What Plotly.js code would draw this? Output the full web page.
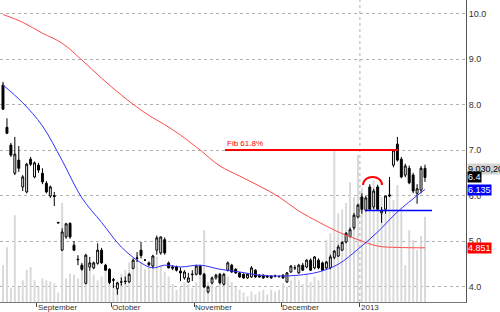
<!DOCTYPE html>
<html><head><meta charset="utf-8">
<script src="https://cdn.plot.ly/plotly-3.0.1.min.js"></script>
<style>html,body{margin:0;padding:0;background:#fff;}#chart{width:500px;height:312px;}</style>
</head><body><div id="chart"></div>
<script>
// ---- data ----
const openP = [8.43,7.50,7.11,6.49,6.78,6.19,6.08,6.80,6.41,6.67,
6.49,6.27,5.99,6.00,5.41,4.80,5.09,5.39,4.91,4.60,
4.47,4.07,4.43,4.41,4.51,4.80,4.47,4.38,4.15,3.95,
4.10,4.12,4.10,4.40,4.62,4.80,4.58,4.52,4.45,4.80,
4.74,5.03,
4.52,4.40,4.43,4.34,4.19,4.10,4.26,4.27,4.45,4.27,
3.88,4.08,4.19,4.27,4.05,4.36,4.47,4.38,4.30,4.27,
4.19,4.21,4.36,4.25,4.25,4.23,4.23,4.23,4.22,4.25,
4.10,4.32,4.41,4.30,4.47,4.43,4.58,4.41,4.58,4.52,
4.41,4.41,
4.64,4.67,4.80,4.98,5.10,5.29,5.53,5.97,5.68,6.19,
5.75,6.19,5.62,5.70,5.99,6.67,7.13,6.80,6.45,6.60,
6.45,6.05,6.12,6.60];
const highP = [8.50,7.70,7.16,7.29,7.09,6.45,6.72,6.85,6.75,6.72,
6.60,6.32,6.22,6.08,5.42,5.28,5.40,5.41,5.00,4.69,
4.52,4.72,4.65,4.55,4.95,4.85,4.50,4.40,4.19,4.10,
4.20,4.22,4.30,4.62,4.76,4.98,4.60,4.55,4.70,5.12,
5.10,5.08,
4.55,4.47,4.46,4.42,4.36,4.30,4.36,4.48,4.47,4.30,
4.02,4.22,4.28,4.30,4.30,4.55,4.50,4.40,4.32,4.29,
4.29,4.45,4.38,4.27,4.27,4.25,4.25,4.26,4.25,4.27,
4.32,4.47,4.47,4.50,4.52,4.60,4.62,4.67,4.62,4.55,
4.56,4.70,
4.80,4.92,5.00,5.20,5.30,5.62,5.82,6.05,6.00,6.25,
6.15,6.24,5.75,6.00,6.41,7.02,7.29,6.85,6.70,6.66,
6.50,6.25,6.65,6.68];
const lowP = [7.88,7.35,6.85,6.45,6.52,6.10,6.05,6.65,6.38,6.50,
6.25,6.05,5.95,5.77,5.39,4.78,5.05,5.05,4.78,4.47,
4.35,4.05,4.35,4.38,4.48,4.50,4.35,4.05,3.97,3.82,
4.02,4.05,4.08,4.38,4.54,4.62,4.56,4.45,4.40,4.70,
4.70,4.70,
4.40,4.36,4.33,4.12,4.15,4.08,4.12,4.24,4.25,3.97,
3.85,4.05,4.15,4.05,4.02,4.33,4.30,4.28,4.19,4.17,
4.17,4.19,4.19,4.19,4.17,4.19,4.17,4.20,4.19,4.17,
4.08,4.30,4.36,4.28,4.34,4.40,4.34,4.38,4.38,4.34,
4.38,4.38,
4.60,4.65,4.78,4.95,5.08,5.25,5.50,5.60,5.65,5.68,
5.70,5.66,5.40,5.60,5.97,6.62,6.75,6.38,6.40,6.25,
6.05,5.82,6.05,6.30];
const closeP = [7.90,7.37,6.89,6.91,6.60,6.41,6.69,6.69,6.72,6.56,
6.30,6.08,6.19,5.98,5.40,5.20,5.38,5.09,4.80,4.59,
4.38,4.69,4.52,4.52,4.80,4.52,4.36,4.09,4.14,4.08,
4.10,4.11,4.27,4.58,4.63,4.68,4.58,4.48,4.67,5.07,
5.09,4.74,
4.41,4.43,4.36,4.30,4.32,4.19,4.27,4.45,4.27,3.99,
3.99,4.19,4.25,4.08,4.27,4.52,4.32,4.30,4.21,4.19,
4.27,4.41,4.21,4.21,4.19,4.21,4.19,4.23,4.22,4.19,
4.30,4.45,4.41,4.47,4.36,4.58,4.36,4.65,4.41,4.36,
4.54,4.65,
4.78,4.87,4.97,5.17,5.25,5.57,5.79,5.70,5.95,5.70,
6.10,5.70,5.68,5.99,6.01,7.00,6.78,6.41,6.65,6.28,
6.10,6.15,6.60,6.40];
// volume, millions of shares
const volumeM = [3.9,5.8,1.5,9.2,1.6,2.3,3.4,3.7,2.3,1.6,
2.5,2.3,2.2,2.0,1.0,10.5,2.5,3.0,2.9,2.5,
3.9,2.7,3.4,2.9,2.3,2.7,3.4,2.9,1.8,2.3,
3.0,3.4,4.2,3.7,5.0,4.2,3.5,3.7,4.5,4.8,
3.9,3.2,
2.7,1.9,1.3,1.6,2.1,1.9,1.5,2.1,3.2,7.6,
2.1,2.3,1.6,1.9,2.1,2.7,2.1,1.6,1.3,1.0,
0.6,1.1,0.8,1.1,1.3,0.8,1.3,1.1,1.3,2.0,
1.6,2.3,2.7,2.3,1.9,3.0,2.1,2.7,2.3,3.4,
6.6,7.3,
16.1,9.4,9.8,10.5,12.7,11.1,15.6,12.1,10.8,11.7,
12.9,12.2,11.1,10.1,12.9,10.8,12.4,9.8,3.9,7.6,
6.6,5.5,7.0,9.0302];
// moving averages read at selected bars
const maIdx  = [0,5,10,15,20,25,30,35,38,41,45,50,55,60,65,70,75,80,85,90,95,100,107];
const redMA  = [9.98,9.81,9.57,9.35,8.98,8.58,8.21,7.88,7.71,7.56,7.33,7.00,6.65,6.43,6.21,5.97,5.66,5.42,5.20,5.03,4.89,4.86,4.851];
const blueMA = [8.43,8.04,7.53,6.77,5.95,5.41,4.87,4.52,4.41,4.47,4.43,4.47,4.38,4.32,4.25,4.23,4.25,4.32,4.49,4.82,5.20,5.64,6.135];
const monthLabels = ['September','October','November','December','2013'];
const monthPos = [8.5, 27.5, 48.5, 70.5, 90.5];
const priceTicks = [4,5,6,7,8,9,10];
const fibLevel = 7.0, supportLevel = 5.67;
const lastVolumeText = '9,030,200', lastCloseText = '6.4', blueLastText = '6.135', redLastText = '4.851';

const idx = closeP.map((_, i) => i);

const traces = [
  {type:'bar', x: idx, y: volumeM, yaxis:'y', xaxis:'x', width:0.5,
   marker:{color:'#d9d9d9', line:{width:0}}, hoverinfo:'skip'},
  {type:'candlestick', x: idx, open: openP, high: highP, low: lowP, close: closeP,
   yaxis:'y2', xaxis:'x', whiskerwidth:0,
   increasing:{line:{color:'#000', width:1}, fillcolor:'#ffffff'},
   decreasing:{line:{color:'#000', width:1}, fillcolor:'#000000'}},
  {type:'scatter', mode:'lines', x: maIdx, y: redMA, yaxis:'y2',
   line:{color:'#ff4a4a', width:1, shape:'spline'}},
  {type:'scatter', mode:'lines', x: maIdx, y: blueMA, yaxis:'y2',
   line:{color:'#3030ff', width:1, shape:'spline'}}
];

const font = 'Liberation Sans, Arial, sans-serif';
const ann = monthLabels.map((t, k) => ({
  text: t, x: monthPos[k], xref:'x', y:0, yref:'paper', yanchor:'middle', xanchor:'left',
  yshift:-5, xshift:0, borderpad:0, showarrow:false, font:{family:font, size:8, color:'#333'}
}));
ann.push({text:'Fib 61.8%', x:56.3, xref:'x', y:fibLevel, yref:'y2', xanchor:'left', yanchor:'bottom',
  yshift:0, showarrow:false, font:{family:font, size:8, color:'#ff0000'}});
function box(text, y, bg, fg) {
  return {text:text, x:1, xref:'paper', xanchor:'left', xshift:1, y:y, yref:'y2', yanchor:'middle',
    showarrow:false, bgcolor:bg, borderpad:0, font:{family:font, size:9, color:fg}};
}
ann.push(box(lastVolumeText, 6.58, '#d4d4d4', '#000'));
ann.push(box(lastCloseText, 6.40, '#000000', '#fff'));
ann.push(box(blueLastText, 6.12, '#0000ff', '#fff'));
ann.push(box(redLastText, 4.85, '#ff0000', '#fff'));

const layout = {
  width:500, height:312, margin:{l:0, r:34, t:0, b:10},
  paper_bgcolor:'#fff', plot_bgcolor:'#fff', showlegend:false,
  xaxis:{range:[-0.76, 117.4], showgrid:false, zeroline:false, showline:true, linecolor:'#777', linewidth:1,
    tickvals: monthPos, ticktext: monthPos.map(()=>''), showticklabels:false, ticks:'outside', ticklen:4,
    tickcolor:'#444', rangeslider:{visible:false}, fixedrange:true},
  yaxis:{range:[0, 32], visible:false, fixedrange:true},
  yaxis2:{overlaying:'y', side:'right', range:[3.66, 10.30], tickvals: priceTicks, tickformat:'.1f',
    showgrid:true, gridcolor:'#b0b0b0', griddash:'dot', gridwidth:1, zeroline:false,
    showline:true, linecolor:'#555', linewidth:1, ticks:'', tickfont:{family:font, size:9, color:'#333'},
    fixedrange:true},
  shapes:[
    {type:'line', xref:'x', yref:'paper', x0:90.5, x1:90.5, y0:0, y1:1, line:{color:'#b0b0b0', width:1, dash:'dot'}, layer:'below'},
    {type:'line', xref:'x', yref:'y2', x0:56.3, x1:100.2, y0:fibLevel, y1:fibLevel, line:{color:'#ff0000', width:2}},
    {type:'line', xref:'x', yref:'y2', x0:91.8, x1:108.8, y0:supportLevel, y1:supportLevel, line:{color:'#0000ff', width:1.5}},
    {type:'path', xref:'x', yref:'y2', path:'M 91.3,6.23 C 91.3,6.47 96.1,6.47 96.1,6.23', line:{color:'#ff0000', width:2}}
  ],
  annotations: ann
};
Plotly.newPlot('chart', traces, layout, {displayModeBar:false, staticPlot:true});
</script></body></html>
